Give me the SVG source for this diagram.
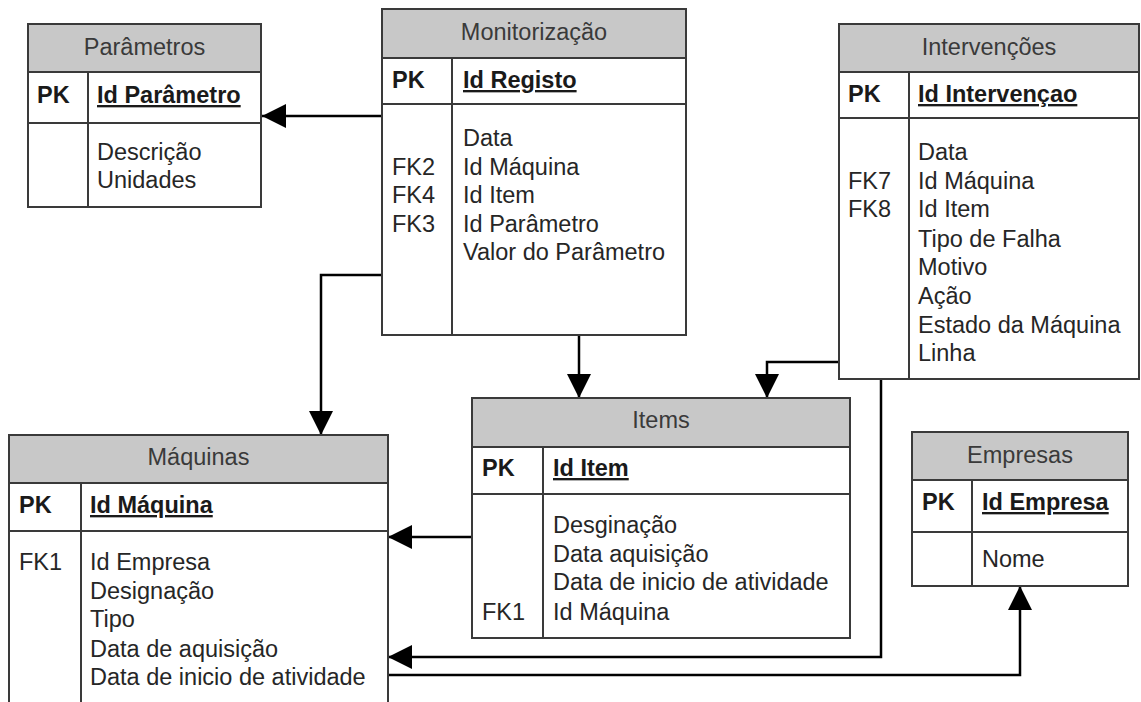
<svg xmlns="http://www.w3.org/2000/svg" width="1141" height="702" viewBox="0 0 1141 702">
  <style>
    .box { fill: #ffffff; stroke: #3a3a3a; stroke-width: 2; }
    .hdr { fill: #c8c8c8; stroke: #3a3a3a; stroke-width: 2; }
    .sep { stroke: #3a3a3a; stroke-width: 2; fill: none; }
    text { font-family: "Liberation Sans", Arial, sans-serif; font-size: 23.5px; fill: #262626; }
    .title { text-anchor: middle; fill: #3a3a3a; }
    .pk { font-weight: bold; fill: #1a1a1a; }
    .key { font-weight: bold; text-decoration: underline; fill: #1a1a1a; }
    .conn { stroke: #000000; stroke-width: 2.5; fill: none; marker-end: url(#arrow); }
  </style>
  <defs>
    <marker id="arrow" markerUnits="userSpaceOnUse" markerWidth="24" markerHeight="24" viewBox="0 0 24 24" refX="24" refY="12" orient="auto">
      <path d="M0,0 L24,12 L0,24 Z" fill="#000000"/>
    </marker>
  </defs>
  <rect width="1141" height="702" fill="#ffffff"/>

  <!-- relationships -->
  <g id="connectors">
    <path class="conn" d="M382,116 H262"/>
    <path class="conn" d="M382,275 H321 V435"/>
    <path class="conn" d="M579,335 V398"/>
    <path class="conn" d="M839,362 H767 V398"/>
    <path class="conn" d="M881,379 V657 H388"/>
    <path class="conn" d="M388,675 H1020 V586"/>
    <path class="conn" d="M472,537 H388"/>
  </g>

  <g id="parametros">
    <rect class="box" x="28" y="24" width="233" height="183"/>
    <rect class="hdr" x="28" y="24" width="233" height="48"/>
    <line class="sep" x1="28" y1="123" x2="261" y2="123"/>
    <line class="sep" x1="88" y1="72" x2="88" y2="207"/>
    <text class="title" x="144.5" y="55">Parâmetros</text>
    <text class="pk" x="37" y="103">PK</text>
    <text class="key" x="97" y="103">Id Parâmetro</text>
    <text x="97" y="160">Descrição</text>
    <text x="97" y="188">Unidades</text>
  </g>

  <g id="monitorizacao">
    <rect class="box" x="382" y="9" width="304" height="326"/>
    <rect class="hdr" x="382" y="9" width="304" height="49"/>
    <line class="sep" x1="382" y1="104" x2="686" y2="104"/>
    <line class="sep" x1="452" y1="58" x2="452" y2="335"/>
    <text class="title" x="534" y="40">Monitorização</text>
    <text class="pk" x="392" y="88">PK</text>
    <text class="key" x="463" y="88">Id Registo</text>
    <text x="463" y="146">Data</text>
    <text x="392" y="175">FK2</text>
    <text x="463" y="175">Id Máquina</text>
    <text x="392" y="203">FK4</text>
    <text x="463" y="203">Id Item</text>
    <text x="392" y="232">FK3</text>
    <text x="463" y="232">Id Parâmetro</text>
    <text x="463" y="260">Valor do Parâmetro</text>
  </g>

  <g id="intervencoes">
    <rect class="box" x="839" y="24" width="300" height="355"/>
    <rect class="hdr" x="839" y="24" width="300" height="48"/>
    <line class="sep" x1="839" y1="118" x2="1139" y2="118"/>
    <line class="sep" x1="909" y1="72" x2="909" y2="379"/>
    <text class="title" x="989" y="55">Intervenções</text>
    <text class="pk" x="848" y="102">PK</text>
    <text class="key" x="918" y="102">Id Intervençao</text>
    <text x="918" y="160">Data</text>
    <text x="848" y="189">FK7</text>
    <text x="918" y="189">Id Máquina</text>
    <text x="848" y="217">FK8</text>
    <text x="918" y="217">Id Item</text>
    <text x="918" y="247">Tipo de Falha</text>
    <text x="918" y="275">Motivo</text>
    <text x="918" y="304">Ação</text>
    <text x="918" y="333">Estado da Máquina</text>
    <text x="918" y="361">Linha</text>
  </g>

  <g id="items">
    <rect class="box" x="472" y="398" width="378" height="240"/>
    <rect class="hdr" x="472" y="398" width="378" height="49"/>
    <line class="sep" x1="472" y1="494" x2="850" y2="494"/>
    <line class="sep" x1="543" y1="447" x2="543" y2="638"/>
    <text class="title" x="661" y="428">Items</text>
    <text class="pk" x="482" y="476">PK</text>
    <text class="key" x="553" y="476">Id Item</text>
    <text x="553" y="533">Desginação</text>
    <text x="553" y="562">Data aquisição</text>
    <text x="553" y="590">Data de inicio de atividade</text>
    <text x="482" y="620">FK1</text>
    <text x="553" y="620">Id Máquina</text>
  </g>

  <g id="maquinas">
    <rect class="box" x="9" y="435" width="379" height="280"/>
    <rect class="hdr" x="9" y="435" width="379" height="48"/>
    <line class="sep" x1="9" y1="531" x2="388" y2="531"/>
    <line class="sep" x1="81" y1="483" x2="81" y2="715"/>
    <text class="title" x="198.5" y="465">Máquinas</text>
    <text class="pk" x="19" y="513">PK</text>
    <text class="key" x="90" y="513">Id Máquina</text>
    <text x="19" y="570">FK1</text>
    <text x="90" y="570">Id Empresa</text>
    <text x="90" y="599">Designação</text>
    <text x="90" y="627">Tipo</text>
    <text x="90" y="657">Data de aquisição</text>
    <text x="90" y="685">Data de inicio de atividade</text>
  </g>

  <g id="empresas">
    <rect class="box" x="912" y="432" width="216" height="154"/>
    <rect class="hdr" x="912" y="432" width="216" height="48"/>
    <line class="sep" x1="912" y1="532" x2="1128" y2="532"/>
    <line class="sep" x1="972" y1="480" x2="972" y2="586"/>
    <text class="title" x="1020" y="463">Empresas</text>
    <text class="pk" x="922" y="510">PK</text>
    <text class="key" x="982" y="510">Id Empresa</text>
    <text x="982" y="567">Nome</text>
  </g>
</svg>
